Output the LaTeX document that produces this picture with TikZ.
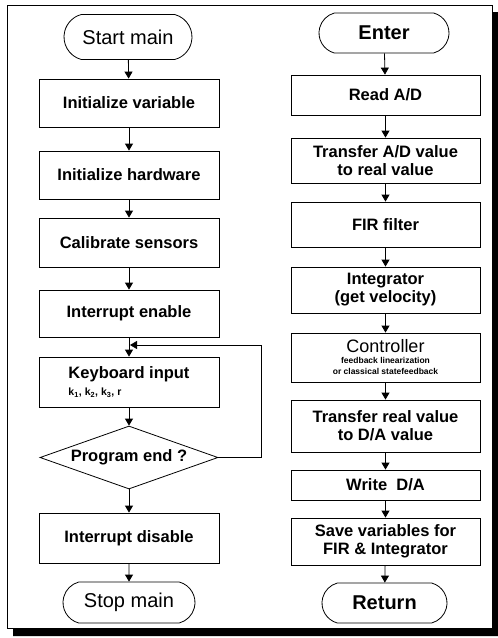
\documentclass[tikz,border=0pt]{standalone}
\usepackage{fontspec}
\setmainfont{Liberation Sans}
\usetikzlibrary{shapes.geometric,shapes.misc,arrows.meta}

\begin{document}
\begin{tikzpicture}[
        x=1pt, y=-1pt,
        >={Triangle[width=8pt,length=7pt]}, % arrow tip
        line width=0.8pt,
        box/.style={draw, rectangle, inner sep=2pt, align=center,
            font=\fontsize{16.5}{18}\selectfont\bfseries},
        lbox/.style={box, minimum width=180pt, minimum height=#1},
        rbox/.style={box, minimum width=189pt, minimum height=#1},
        term/.style={draw, rounded rectangle, rounded rectangle arc length=150,
            inner sep=0pt, font=\fontsize{20}{22}\selectfont},
        decision/.style={draw, diamond, aspect=2.8, inner sep=0pt, minimum width=178pt,
            minimum height=63pt, font=\fontsize{16.5}{18}\selectfont\bfseries},
        flow/.style={->, line width=0.8pt}
    ]
    \useasboundingbox (0,0) rectangle (498,638);

    % frame with shadow
    \fill[black] (492,12) -- (498,12) -- (498,636) -- (13,636) -- (13,628) -- (492,628) -- cycle;
    \draw (7,5) rectangle (492,628);

    % main program
    \node[term, minimum width=128pt, minimum height=45pt] (start) at (128,37) {Start main};
    \node[lbox=48pt] (initvar) at (129,103) {Initialize variable};
    \node[lbox=48pt] (inithw) at (129,175) {Initialize hardware};
    \node[lbox=49pt] (calib) at (129,242.5) {Calibrate sensors};
    \node[lbox=47pt] (inten) at (129,313.5) {Interrupt enable};
    \node[lbox=50pt, align=left] (keyb) at (129,382)
        {Keyboard input\\[-1pt]{\fontsize{10.5}{11}\selectfont k\textsubscript{1}, k\textsubscript{2}, k\textsubscript{3}, r}};
    \node[decision] (progend) at (129,457.5) {Program end ?};
    \node[lbox=50pt] (intdis) at (129,538) {Interrupt disable};
    \node[term, minimum width=132pt, minimum height=41pt] (stop) at (129,602.5) {Stop main};

    \draw[flow] (start) -- (initvar);
    \draw[flow] (initvar) -- (inithw);
    \draw[flow] (inithw) -- (calib);
    \draw[flow] (calib) -- (inten);
    \draw[flow] (inten) -- (keyb);
    \draw[flow] (keyb) -- (progend);
    \draw[flow] (progend) -- (intdis);
    \draw[flow] (intdis) -- (stop);

    % loop back
    \coordinate (loopb) at (261,457.5);
    \coordinate (loopt) at (261,345);
    \coordinate (join) at (130,345);
    \draw[flow] (progend.east) -- (loopb) -- (loopt) -- (join);

    % interrupt routine
    \node[term, minimum width=130pt, minimum height=40pt] (enter) at (384,33) {\bfseries Enter};
    \node[rbox=40pt] (readad) at (385.5,95) {Read A/D};
    \node[rbox=45pt] (tranad) at (385.5,160.5) {Transfer A/D value\\to real value};
    \node[rbox=45pt] (fir) at (385.5,224.5) {FIR filter};
    \node[rbox=46pt] (integ) at (385.5,290) {Integrator\\(get velocity)};
    \node[rbox=49pt] (ctrl) at (385.5,357.5)
        {{\fontsize{18}{18}\selectfont\mdseries Controller}\\[-7pt]
         {\fontsize{8.5}{9}\selectfont feedback linearization}\\[-7pt]
         {\fontsize{8.5}{9}\selectfont or classical statefeedback}};
    \node[rbox=52pt] (tranda) at (385.5,426) {Transfer real value\\to D/A value};
    \node[rbox=30pt] (writeda) at (385.5,485) {Write\ \ D/A};
    \node[rbox=47pt] (save) at (385.5,541.5) {Save variables for\\FIR \& Integrator};
    \node[term, minimum width=125pt, minimum height=40pt] (ret) at (384.5,603) {\bfseries Return};

    \draw[flow] (enter) -- (readad);
    \draw[flow] (readad) -- (tranad);
    \draw[flow] (tranad) -- (fir);
    \draw[flow] (fir) -- (integ);
    \draw[flow] (integ) -- (ctrl);
    \draw[flow] (ctrl) -- (tranda);
    \draw[flow] (tranda) -- (writeda);
    \draw[flow] (writeda) -- (save);
    \draw[flow] (save) -- (ret);
\end{tikzpicture}
\end{document}
